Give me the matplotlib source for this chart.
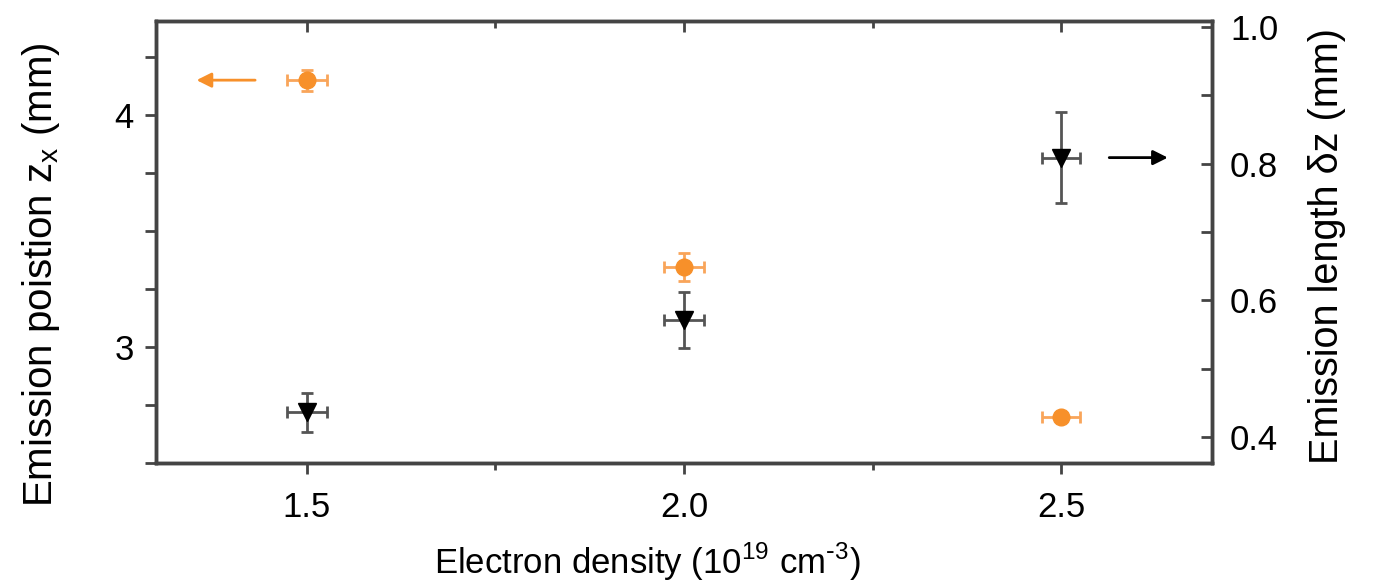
import matplotlib
matplotlib.use("Agg")
import matplotlib.pyplot as plt
from matplotlib.ticker import MultipleLocator

plt.rcParams['font.family'] = ['Liberation Sans', 'DejaVu Sans']
plt.rcParams['axes.unicode_minus'] = False

# Data
density = [1.5, 2.0, 2.5]
zx = [4.15, 3.345, 2.70]            # emission position (mm), left axis
zx_yerr = [0.045, 0.06, 0.02]
zx_xerr = [0.027, 0.027, 0.025]
dz = [0.436, 0.571, 0.809]          # emission length (mm), right axis
dz_yerr = [0.029, 0.041, 0.067]
dz_xerr = [0.027, 0.027, 0.025]
xticks = [1.5, 2.0, 2.5]
xticklabels = ['1.5', '2.0', '2.5']
lticks = [3, 4]
lticklabels = ['3', '4']
rticks = [0.4, 0.6, 0.8, 1.0]
rticklabels = ['0.4', '0.6', '0.8', '1.0']

orange = '#F7902A'
spine_c = '#444444'

fig = plt.figure(figsize=(13.75, 5.86), dpi=100)
ax = fig.add_axes([0.1135, 0.2099, 0.768, 0.7543])
ax2 = ax.twinx()

ax.errorbar(density, zx, yerr=zx_yerr, xerr=zx_xerr, fmt='o', color=orange,
            ms=12, ecolor='#F9A55A', elinewidth=2, capsize=4.5, capthick=2, zorder=3)
ax2.errorbar(density, dz, yerr=dz_yerr, xerr=dz_xerr, fmt='v', color='black',
             ms=13, ecolor='#555555', elinewidth=2, capsize=4.5, capthick=2, zorder=3)

# arrows
ax.annotate('', xy=(1.35, 4.15), xytext=(1.435, 4.15),
            arrowprops=dict(arrowstyle='-|>', color=orange, lw=2, mutation_scale=22))
ax2.annotate('', xy=(2.645, 0.809), xytext=(2.56, 0.809),
             arrowprops=dict(arrowstyle='-|>', color='black', lw=2, mutation_scale=22))

ax.set_xlim(1.3, 2.7)
ax.set_ylim(2.5, 4.405)
ax2.set_ylim(0.362, 1.009)

ax.set_xticks(xticks)
ax.set_xticklabels(xticklabels)
ax.xaxis.set_minor_locator(MultipleLocator(0.25))
ax.set_yticks(lticks)
ax.set_yticklabels(lticklabels)
ax.yaxis.set_minor_locator(MultipleLocator(0.25))
ax2.set_yticks(rticks)
ax2.set_yticklabels(rticklabels)
ax2.yaxis.set_minor_locator(MultipleLocator(0.1))

fs = 25
ax.tick_params(axis='x', which='both', direction='out', top=False, labelsize=fs, pad=12,
               width=2, color=spine_c)
ax.tick_params(axis='x', which='major', length=8)
ax.tick_params(axis='x', which='minor', length=5)
ax.tick_params(axis='y', which='both', direction='out', length=8, width=2,
               labelsize=fs, pad=8, color=spine_c)
ax2.tick_params(axis='y', which='both', direction='in', length=8, width=2,
                labelsize=fs, pad=13, color=spine_c)

# top ticks pointing inward
secx = ax.secondary_xaxis('top')
secx.set_xticks(xticks)
secx.xaxis.set_minor_locator(MultipleLocator(0.25))
secx.tick_params(axis='x', which='both', direction='in', labeltop=False, width=2, color=spine_c)
secx.tick_params(axis='x', which='major', length=8)
secx.tick_params(axis='x', which='minor', length=5)
secx.spines['top'].set_visible(False)

for a in (ax, ax2):
    for s in a.spines.values():
        s.set_linewidth(2.5)
        s.set_color(spine_c)

ax.set_xlabel('Electron density (10$^{\\mathregular{19}}$ cm$^{\\text{-}\\mathregular{3}}$)', fontsize=fs, labelpad=12)
ax.xaxis.label.set_x(0.465)
ax.set_ylabel('Emission poistion z$_{\\mathregular{x}}$ (mm)', fontsize=29, labelpad=38)
ax.yaxis.label.set_y(0.425)
ax2.set_ylabel('Emission length δz (mm)', fontsize=28.5, labelpad=21)
ax2.yaxis.label.set_y(0.491)

fig.savefig('out.png', dpi=100)
